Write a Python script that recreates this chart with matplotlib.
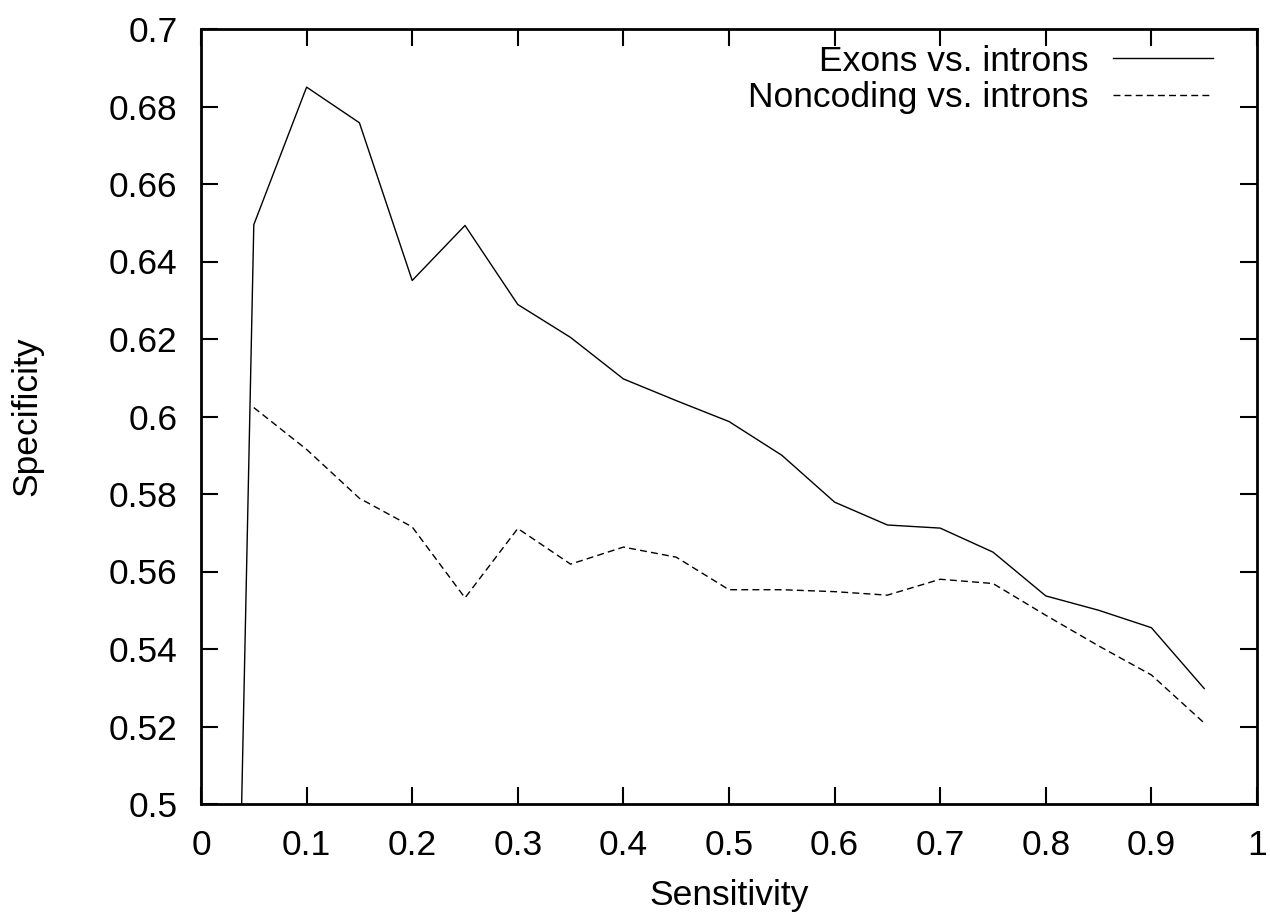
import matplotlib
matplotlib.use("Agg")
import matplotlib.pyplot as plt

plt.rcParams['font.family'] = ['Liberation Sans', 'DejaVu Sans']

# Data
sens_exons = [0.0, 0.05, 0.10, 0.15, 0.20, 0.25, 0.30, 0.35, 0.40, 0.45, 0.50,
              0.55, 0.60, 0.65, 0.70, 0.75, 0.80, 0.85, 0.90, 0.95]
spec_exons = [0.0, 0.6495, 0.685, 0.6758, 0.6351, 0.6493, 0.6289, 0.6204, 0.6097,
              0.6041, 0.5987, 0.5900, 0.5779, 0.5720, 0.5712, 0.5650, 0.5537,
              0.5500, 0.5455, 0.5298]

sens_nonc = [0.05, 0.10, 0.15, 0.20, 0.25, 0.30, 0.35, 0.40, 0.45, 0.50,
             0.55, 0.60, 0.65, 0.70, 0.75, 0.80, 0.85, 0.90, 0.95]
spec_nonc = [0.6023, 0.5915, 0.5789, 0.5715, 0.5532, 0.5711, 0.5619, 0.5663,
             0.5637, 0.5553, 0.5553, 0.5548, 0.5539, 0.5580, 0.5569, 0.5487,
             0.5408, 0.5333, 0.5209]

xticks = [0, 0.1, 0.2, 0.3, 0.4, 0.5, 0.6, 0.7, 0.8, 0.9, 1.0]
xticklabels = ['0', '0.1', '0.2', '0.3', '0.4', '0.5', '0.6', '0.7', '0.8', '0.9', '1']
yticks = [0.5, 0.52, 0.54, 0.56, 0.58, 0.6, 0.62, 0.64, 0.66, 0.68, 0.7]
yticklabels = ['0.5', '0.52', '0.54', '0.56', '0.58', '0.6', '0.62', '0.64', '0.66', '0.68', '0.7']

label_exons = 'Exons vs. introns'
label_nonc = 'Noncoding vs. introns'

FS = 25.5

fig = plt.figure(figsize=(12.7, 9.14), dpi=100)
ax = fig.add_axes([201/1270, 1 - 804/914, (1257-201)/1270, (804-29)/914])

l1, = ax.plot(sens_exons, spec_exons, color='black', lw=1.0)
l2, = ax.plot(sens_nonc, spec_nonc, color='black', lw=1.0, dashes=(5, 3))

ax.set_xlim(0, 1)
ax.set_ylim(0.5, 0.7)
ax.set_xticks(xticks)
ax.set_xticklabels(xticklabels)
ax.set_yticks(yticks)
ax.set_yticklabels(yticklabels)

ax.tick_params(direction='in', length=12, width=1.5, top=True, right=True,
               labelsize=FS, color='black')
ax.tick_params(axis='x', pad=18)
ax.tick_params(axis='y', pad=17)
for s in ax.spines.values():
    s.set_linewidth(2)

ax.set_xlabel('Sensitivity', fontsize=FS, labelpad=12)
ax.set_ylabel('Specificity', fontsize=FS, labelpad=47)

common = dict(frameon=False, markerfirst=False, fontsize=FS, handlelength=2.82,
              handletextpad=0.68, borderpad=0, borderaxespad=0, loc='center right')
leg1 = ax.legend([l1], [label_exons], bbox_to_anchor=(0.958, 0.9587), **common)
ax.add_artist(leg1)
leg2 = ax.legend([l2], [label_nonc], bbox_to_anchor=(0.958, 0.911), **common)

fig.savefig('out.png', dpi=100)
